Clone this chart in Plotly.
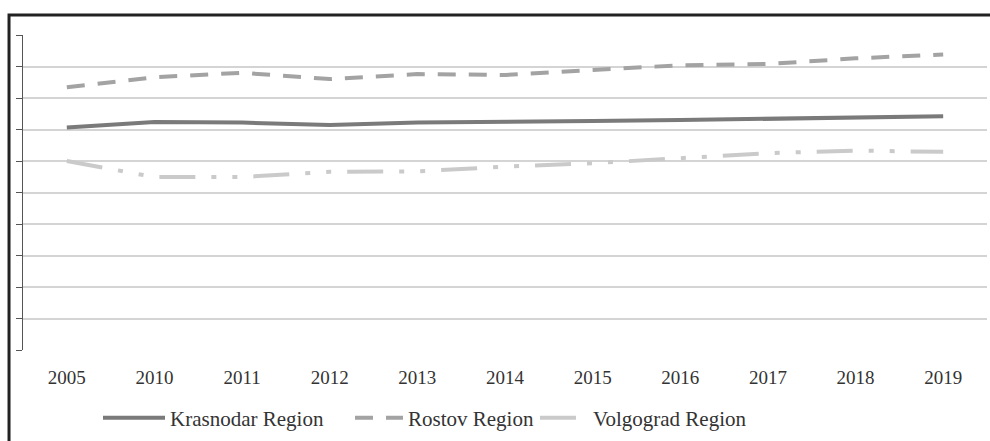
import plotly.graph_objects as go

years = ["2005", "2010", "2011", "2012", "2013", "2014",
         "2015", "2016", "2017", "2018", "2019"]
krasnodar = [7.06, 7.24, 7.22, 7.14, 7.22, 7.23, 7.27, 7.30, 7.33, 7.38, 7.42]
rostov = [8.34, 8.66, 8.80, 8.60, 8.76, 8.73, 8.89, 9.04, 9.08, 9.26, 9.38]
volgograd = [6.00, 5.49, 5.49, 5.66, 5.67, 5.82, 5.93, 6.10, 6.25, 6.33, 6.29]

FONT = "Liberation Serif, Times New Roman, serif"

fig = go.Figure()
fig.add_scatter(
    x=years, y=krasnodar, name="Krasnodar Region", mode="lines",
    line=dict(color="#7a7a7a", width=4), legend="legend",
)
fig.add_scatter(
    x=years, y=rostov, name="Rostov Region", mode="lines",
    line=dict(color="#a3a3a3", width=4, dash="18px,13px"), legend="legend2",
)
fig.add_scatter(
    x=years, y=volgograd, name="Volgograd Region", mode="lines",
    line=dict(color="#cacaca", width=4, dash="36px,16px,5px,16px,5px,16px"),
    legend="legend3",
)

fig.update_xaxes(
    type="category",
    range=[-0.5, 10.5],
    showgrid=False,
    zeroline=False,
    showline=False,
    ticks="",
    automargin=False,
    ticklabelstandoff=14,
    tickfont=dict(family=FONT, size=19, color="#333333"),
)
fig.update_yaxes(
    range=[0, 10],
    dtick=1,
    showticklabels=False,
    showgrid=True,
    gridcolor="#d4d4d4",
    gridwidth=1.5,
    zeroline=False,
    showline=True,
    linecolor="#555555",
    linewidth=1,
    ticks="outside",
    ticklen=6,
    tickcolor="#555555",
    automargin=False,
)

# outer frame around the whole chart
fig.add_shape(
    type="rect", xref="paper", yref="paper",
    x0=-0.0145, x1=1.01, y0=-0.305, y1=1.0635,
    line=dict(color="#222222", width=3),
)

legend_style = dict(
    orientation="h",
    xanchor="left",
    y=-0.216, yanchor="middle",
    font=dict(family=FONT, size=21, color="#333333"),
    bgcolor="rgba(0,0,0,0)",
)

fig.update_layout(
    width=990,
    height=441,
    margin=dict(l=23, r=3, t=35, b=91, autoexpand=False),
    plot_bgcolor="white",
    paper_bgcolor="white",
    hovermode=False,
    showlegend=True,
    legend=dict(legend_style, x=0.0778, itemwidth=62),
    legend2=dict(legend_style, x=0.3392, itemwidth=48),
    legend3=dict(legend_style, x=0.5311, itemwidth=48),
)

# drop the default page margin so the figure sits at the window origin
fig.write_html(
    "out.html",
    config={"displayModeBar": False},
    post_script="document.body.style.margin = '0';",
)
